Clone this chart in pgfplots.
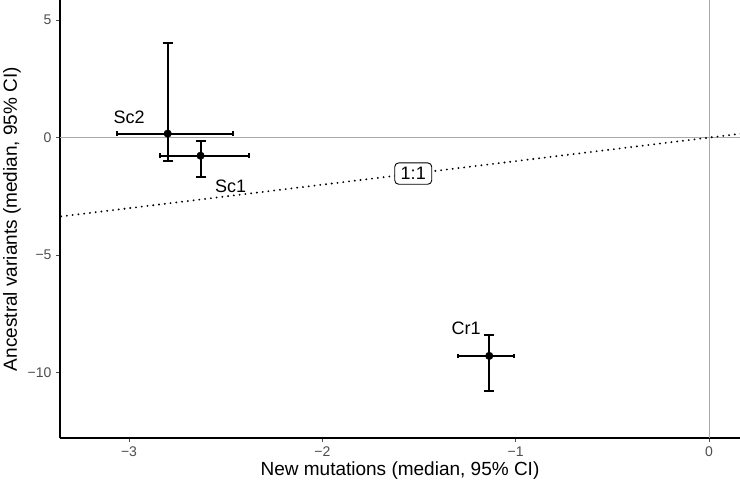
\documentclass[border=0pt]{standalone}
\usepackage{pgfplots}
\pgfplotsset{compat=1.18}
\usepackage{fontspec}
\setmainfont{Liberation Sans}
\definecolor{tickgray}{HTML}{4D4D4D}
\definecolor{refgray}{HTML}{AAAAAA}
\begin{document}
\begin{tikzpicture}
\begin{axis}[
  name=main,
  scale only axis, width=680bp, height=438bp,
  xmin=-3.357, xmax=0.16, ymin=-12.77, ymax=5.85,
  axis lines*=left, axis line style={-, line width=1.1bp, black},
  xtick={-3,-2,-1,0}, xticklabels={−3,−2,−1,0},
  ytick={-10,-5,0,5}, yticklabels={−10,−5,0,5},
  tick align=outside, major tick length=4bp,
  tick style={tickgray, line width=0.8bp},
  ticklabel style={font=\fontsize{14bp}{16bp}\selectfont, text=tickgray},
  xticklabel style={yshift=-1bp},
  yticklabel style={xshift=-1bp},
  xlabel={New mutations (median, 95\% CI)},
  ylabel={Ancestral variants (median, 95\% CI)},
  label style={font=\fontsize{19bp}{21bp}\selectfont},
  xlabel style={at={(axis description cs:0.5,-0.0735)}, anchor=center},
  ylabel style={at={(axis description cs:-0.0705,0.5)}, anchor=center},
  clip=true,
]
\addplot[refgray, line width=1.1bp, forget plot] coordinates {(-4,0) (1,0)};
\addplot[refgray, line width=1.1bp, forget plot] coordinates {(0,-14) (0,7)};
\addplot[black, line width=2.1bp, line cap=round, dash pattern=on 0pt off 5.8bp] coordinates {(-3.5,-3.5) (0.3,0.3)};
% y error bars
\addplot[only marks, mark=none, black,
  error bars/.cd, y dir=both, y explicit,
  error bar style={line width=1.9bp, black},
  error mark options={rotate=90, mark size=5bp, line width=1.9bp, black}]
  coordinates {
  (-2.80,0.17) += (0,3.87) -= (0,1.15)
  (-2.63,-0.77) += (0,0.64) -= (0,0.89)
  (-1.137,-9.28) += (0,0.90) -= (0,1.49)
  };
% x error bars
\addplot[only marks, mark=none, black,
  error bars/.cd, x dir=both, x explicit,
  error bar style={line width=1.9bp, black},
  error mark options={rotate=90, mark size=2.4bp, line width=1.9bp, black}]
  coordinates {
  (-2.80,0.17) += (0.34,0) -= (0.26,0)
  (-2.63,-0.77) += (0.25,0) -= (0.21,0)
  (-1.137,-9.28) += (0.127,0) -= (0.163,0)
  };
\addplot[only marks, mark=*, mark size=3.8bp, black] coordinates {
  (-2.80,0.17) (-2.63,-0.77) (-1.137,-9.28)};
\node[font=\fontsize{18bp}{20bp}\selectfont] at (axis cs:-3.00,0.85) {Sc2};
\node[font=\fontsize{18bp}{20bp}\selectfont] at (axis cs:-2.475,-2.09) {Sc1};
\node[font=\fontsize{18bp}{20bp}\selectfont] at (axis cs:-1.256,-8.09) {Cr1};
\node[draw, rounded corners=4bp, fill=white, line width=0.9bp, inner xsep=6bp, inner ysep=4.5bp, font=\fontsize{18bp}{20bp}\selectfont] at (axis cs:-1.53,-1.53) {1:1};
\end{axis}
\pgfresetboundingbox
\path[use as bounding box] ([xshift=-60bp, yshift=-49bp]main.south west) rectangle (main.north east);
\end{tikzpicture}
\end{document}
